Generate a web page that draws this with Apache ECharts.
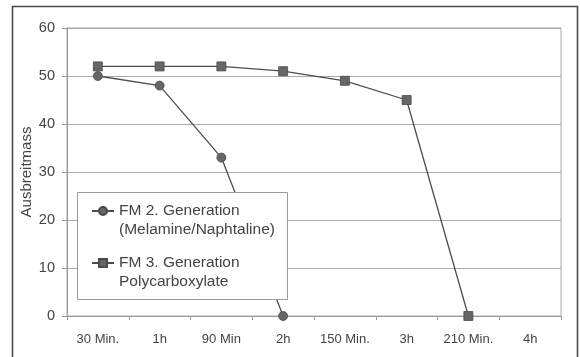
<!DOCTYPE html>
<html>
<head>
<meta charset="utf-8">
<script src="https://cdn.jsdelivr.net/npm/echarts@6/dist/echarts.min.js"></script>
<style>
  html, body { margin: 0; padding: 0; background: #fff; }
  #chart { width: 580px; height: 357px; }
</style>
</head>
<body>
<div id="chart"></div>
<script>
// Time steps after mixing
const categories = ['30 Min.', '1h', '90 Min', '2h', '150 Min.', '3h', '210 Min.', '4h'];

// Flow spread (Ausbreitmass) per superplasticizer generation
const fm2Name = 'FM 2. Generation\n(Melamine/Naphtaline)';
const fm2Values = [50, 48, 33, 0, null, null, null, null];

const fm3Name = 'FM 3. Generation\nPolycarboxylate';
const fm3Values = [52, 52, 52, 51, 49, 45, 0, null];

const yTicks = { min: 0, max: 60, interval: 10 };

const FONT = '"Liberation Sans", Arial, Helvetica, sans-serif';
const TEXT = '#444';
const AXIS = '#999';

const chart = echarts.init(document.getElementById('chart'), null, { renderer: 'canvas' });

chart.setOption({
  animation: false,
  backgroundColor: '#fff',
  textStyle: { fontFamily: FONT, color: TEXT },
  grid: {
    left: 67, right: 19, top: 28, bottom: 41,
    show: true, borderColor: '#aaa', borderWidth: 1
  },
  graphic: [
    {
      // outer frame
      type: 'rect', z: 0, silent: true,
      shape: { x: 12.5, y: 6.5, width: 565, height: 360 },
      style: { fill: 'none', stroke: '#4a4a4a', lineWidth: 1.6 }
    },
    {
      // legend frame, covering the lines behind it
      type: 'rect', z: 3, silent: true,
      shape: { x: 77.5, y: 192.5, width: 210, height: 107 },
      style: { fill: '#fff', stroke: '#999', lineWidth: 1 }
    }
  ],
  legend: {
    orient: 'vertical',
    left: 91, top: 182.5,
    padding: 0,
    z: 5,
    itemWidth: 22, itemHeight: 10, itemGap: -5,
    // a leading blank line keeps the icon level with the first text line
    formatter: name => '\n' + name,
    textStyle: {
      fontFamily: FONT, fontSize: 15.5, color: TEXT,
      lineHeight: 19
    },
    data: [fm2Name, fm3Name]
  },
  xAxis: {
    type: 'category',
    data: categories,
    boundaryGap: true,
    axisLine: { lineStyle: { color: AXIS, width: 1 } },
    axisTick: { show: true, length: 4, alignWithLabel: false, lineStyle: { color: AXIS } },
    axisLabel: { color: TEXT, fontSize: 13, margin: 17, fontFamily: FONT, interval: 0 },
    splitLine: { show: false }
  },
  yAxis: {
    type: 'value',
    min: yTicks.min, max: yTicks.max, interval: yTicks.interval,
    name: 'Ausbreitmass',
    nameLocation: 'middle',
    nameGap: 33,
    nameMoveOverlap: false,
    nameRotate: 90,
    nameTextStyle: { color: TEXT, fontSize: 15, fontFamily: FONT },
    axisLine: { show: true, lineStyle: { color: AXIS, width: 1 } },
    axisTick: { show: true, length: 5, lineStyle: { color: AXIS } },
    axisLabel: { color: TEXT, fontSize: 14.5, margin: 12, fontFamily: FONT },
    splitLine: { show: true, lineStyle: { color: '#aaa', width: 1 } }
  },
  series: [
    {
      name: fm2Name,
      type: 'line',
      data: fm2Values,
      connectNulls: false,
      symbol: 'circle',
      symbolSize: 9,
      z: 2,
      lineStyle: { color: '#4d4d4d', width: 1.3 },
      itemStyle: { color: '#666', borderColor: '#4a4a4a', borderWidth: 0.8 }
    },
    {
      name: fm3Name,
      type: 'line',
      data: fm3Values,
      connectNulls: false,
      symbol: 'rect',
      symbolSize: 9,
      z: 2,
      lineStyle: { color: '#4d4d4d', width: 1.3 },
      itemStyle: { color: '#666', borderColor: '#4a4a4a', borderWidth: 0.8 }
    }
  ]
});
</script>
</body>
</html>
